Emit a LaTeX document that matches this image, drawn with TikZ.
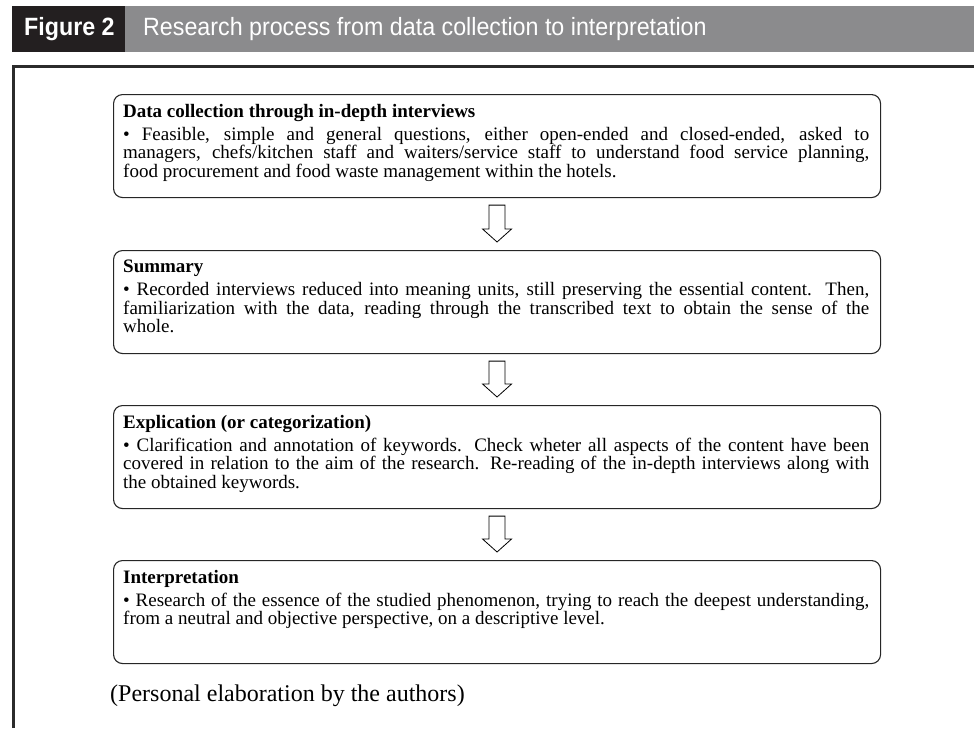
\documentclass[tikz,border=0pt]{standalone}
\usepackage{fontspec}
\setmainfont{Liberation Serif}
\newfontfamily\headfont[FakeStretch=0.93]{Liberation Sans}
\usetikzlibrary{calc}
\definecolor{bargray}{HTML}{8B8B8D}
\definecolor{barblack}{HTML}{231F20}
\definecolor{framegray}{HTML}{2B2B2B}
\newcommand\stagearrow[2]{%
  \draw[flowarrow] ($(#1.south)+(-8,7)$) -- ($(#1.south)+(8,7)$)
    -- ($(#2.north)+(8,-21)$) -- ($(#2.north)+(14.5,-21)$)
    -- ($(#2.north)+(0,-8)$) -- ($(#2.north)+(-14.5,-21)$)
    -- ($(#2.north)+(-8,-21)$) -- cycle;}
\begin{document}
\begin{tikzpicture}[x=1pt,y=-1pt,
  stagebox/.style={draw=black!85, line width=1.1pt, rounded corners=9pt,
    minimum width=767pt, minimum height=103pt, anchor=north west, inner sep=0pt},
  stagetext/.style={anchor=north west, text width=746pt, align=justify,
    inner sep=0pt, font=\fontsize{19}{18.5}\selectfont},
  flowarrow/.style={draw=black, line width=0.8pt, fill=white, line join=miter},
  headtext/.style={anchor=base west, text=white, inner sep=0pt,
    font=\headfont\fontsize{25}{28}\selectfont}]
\useasboundingbox (0,0) rectangle (974,728);

% title strip
\fill[bargray] (12,6) rectangle (974,52);
\fill[barblack] (12,6) rectangle (125,52);
\node[headtext, font=\headfont\bfseries\fontsize{25}{28}\selectfont] (fig) at (24,35) {Figure 2};
\node[headtext] (title) at (143,35) {Research process from data collection to interpretation};

% outer frame
\draw[framegray, line width=3pt] (13.5,728) -- (13.5,66) -- (974,66);

% stages
\node[stagebox] (b1) at (113,94) {};
\node[stagebox] (b2) at (113,250) {};
\node[stagebox] (b3) at (113,405) {};
\node[stagebox] (b4) at (113,560) {};

\node[stagetext] (t1) at ($(b1.north west)+(10,10)$) {\textbf{Data collection through in-depth interviews}\par\vspace{4.5pt}
\textbullet\ Feasible, simple and general questions, either open-ended and closed-ended, asked to\linebreak
managers, chefs/kitchen staff and waiters/service staff to understand food service planning,\linebreak
food procurement and food waste management within the hotels.};

\node[stagetext] (t2) at ($(b2.north west)+(10,10)$) {\textbf{Summary}\par\vspace{4.5pt}
\textbullet\ Recorded interviews reduced into meaning units, still preserving the essential content.\ \ Then,\linebreak
familiarization with the data, reading through the transcribed text to obtain the sense of the\linebreak
whole.};

\node[stagetext] (t3) at ($(b3.north west)+(10,10)$) {\textbf{Explication (or categorization)}\par\vspace{4.5pt}
\textbullet\ Clarification and annotation of keywords. Check wheter all aspects of the content have been\linebreak
covered in relation to the aim of the research. Re-reading of the in-depth interviews along with\linebreak
the obtained keywords.};

\node[stagetext] (t4) at ($(b4.north west)+(10,10)$) {\textbf{Interpretation}\par\vspace{4.5pt}
\textbullet\ Research of the essence of the studied phenomenon, trying to reach the deepest understanding,\linebreak
from a neutral and objective perspective, on a descriptive level.};

% arrows between stages
\stagearrow{b1}{b2}
\stagearrow{b2}{b3}
\stagearrow{b3}{b4}

% source note
\node[anchor=base west, inner sep=0pt, font=\fontsize{24}{28}\selectfont] (note) at (110,701) {(Personal elaboration by the authors)};
\end{tikzpicture}
\end{document}
